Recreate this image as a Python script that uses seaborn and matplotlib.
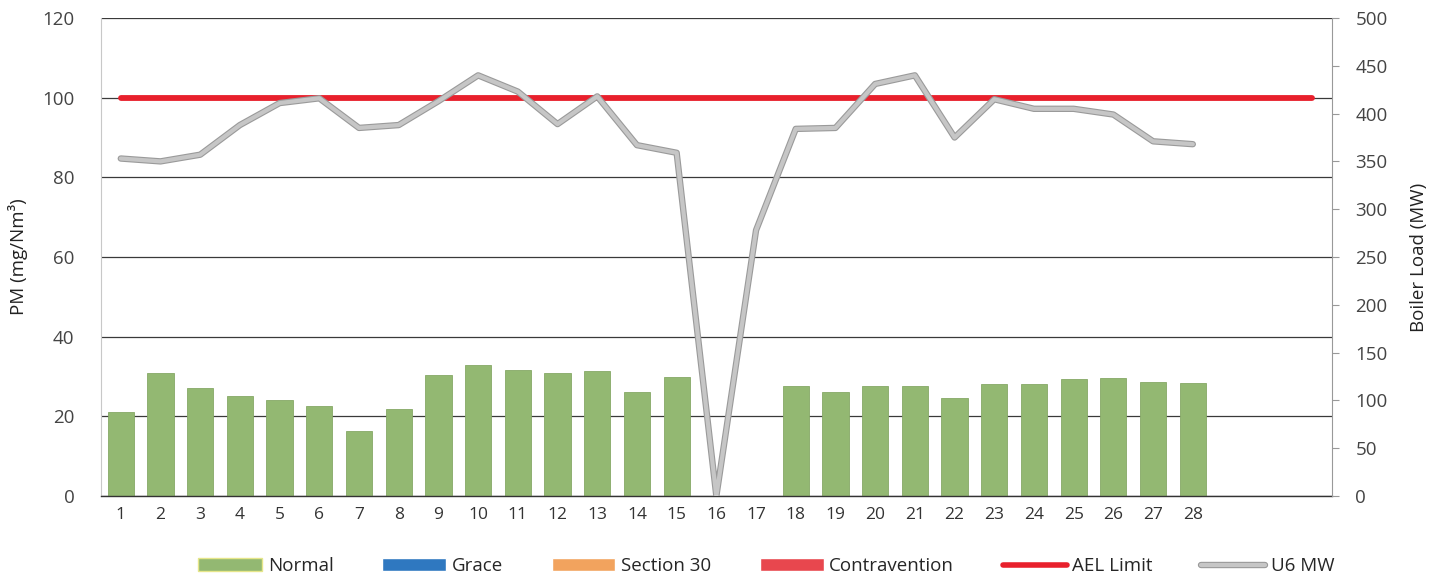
import numpy as np
import pandas as pd
import matplotlib
matplotlib.use("Agg")
import matplotlib.pyplot as plt
import matplotlib.patheffects as pe
from matplotlib.patches import Patch
from matplotlib.lines import Line2D
import seaborn as sns

# Daily values (31 day slots, data for days 1-28)
days = list(range(1, 32))
day_labels = [str(d) for d in range(1, 29)] + ["", "", ""]

normal = [21.0, 31.0, 27.2, 25.2, 24.2, 22.6, 16.4, 21.9, 30.4, 33.0,
          31.6, 30.8, 31.4, 26.1, 29.9, 0, 0, 27.7, 26.2, 27.5,
          27.7, 24.5, 28.1, 28.1, 29.4, 29.5, 28.5, 28.3, 0, 0, 0]
grace = [0] * 31
section30 = [0] * 31
contravention = [0] * 31
ael_limit = [100] * 31
u6_mw = [353, 350, 357, 388, 411, 416, 385, 388, 413, 440,
         423, 389, 418, 367, 359, 0, 278, 384, 385, 431,
         440, 375, 415, 405, 405, 399, 371, 368, np.nan, np.nan, np.nan]

c_normal = "#93b872"
c_grace = "#2f78c0"
c_s30 = "#f2a35e"
c_contra = "#e8474e"
c_ael = "#e8202c"
c_mw = "#c6c6c6"

sns.set_theme(style="white")
plt.rcParams["font.family"] = ["Open Sans", "DejaVu Sans"]

df = pd.DataFrame({"day": days, "Normal": normal, "Grace": grace,
                   "Section 30": section30, "Contravention": contravention})

fig = plt.figure(figsize=(14.46, 5.8), dpi=100)
ax = fig.add_axes([0.0698, 0.1448, 0.8512, 0.8242])

sns.barplot(data=df, x="day", y="Normal", color=c_normal, width=0.66,
            saturation=1, edgecolor="#86a866", linewidth=0.6, ax=ax, zorder=2)

pos = np.arange(len(days))
sns.lineplot(x=pos, y=ael_limit, color=c_ael, linewidth=4.2, ax=ax, zorder=3)

ax.set_ylim(0, 120)
ax.set_xlim(-0.5, len(days) - 0.5)
ax.set_yticks(range(0, 121, 20))
ax.set_xticks(pos)
ax.set_xticklabels(day_labels)
ax.grid(axis="y", color="#3a3a3a", linewidth=0.9)
ax.set_axisbelow(True)
ax.set_xlabel("")
ax.set_ylabel("PM (mg/Nm³)", fontsize=13.5, color="#222222", labelpad=10)
ax.tick_params(axis="y", length=0, labelsize=13.5, labelcolor="#444444", pad=19)
ax.tick_params(axis="x", length=3, width=0.6, color="#888888", direction="out",
               labelsize=12.5, labelcolor="#333333", pad=5)
for s in ["top", "right"]:
    ax.spines[s].set_visible(False)
ax.spines["left"].set_color("#c8c8c8")
ax.spines["left"].set_linewidth(0.8)
ax.spines["bottom"].set_color("#333333")
ax.spines["bottom"].set_linewidth(1.0)

ax2 = ax.twinx()
sns.lineplot(x=pos, y=u6_mw, color=c_mw, linewidth=3.0, ax=ax2,
             path_effects=[pe.Stroke(linewidth=4.6, foreground="#9a9a9a"), pe.Normal()])
ax2.set_ylim(0, 500)
ax2.set_yticks(range(0, 501, 50))
ax2.set_ylabel("Boiler Load (MW)", fontsize=13.5, color="#222222", labelpad=16)
ax2.tick_params(axis="y", length=5, width=0.8, color="#999999", direction="out",
                labelsize=13.5, labelcolor="#444444", pad=12)
for s in ["top", "left", "bottom"]:
    ax2.spines[s].set_visible(False)
ax2.spines["right"].set_color("#999999")
ax2.spines["right"].set_linewidth(0.8)
ax2.grid(False)

handles = [
    Patch(facecolor=c_normal, edgecolor="#e6e68a", label="Normal"),
    Patch(facecolor=c_grace, label="Grace"),
    Patch(facecolor=c_s30, label="Section 30"),
    Patch(facecolor=c_contra, label="Contravention"),
    Line2D([0], [0], color=c_ael, linewidth=4, label="AEL Limit"),
    Line2D([0], [0], color=c_mw, linewidth=3,
           path_effects=[pe.Stroke(linewidth=4.6, foreground="#9a9a9a"), pe.Normal()],
           label="U6 MW"),
]
fig.legend(handles=handles, loc="center", bbox_to_anchor=(0.53, 0.024), ncol=6,
           frameon=False, fontsize=13.5, handlelength=3.4, handleheight=0.7,
           handletextpad=0.3, columnspacing=2.6)

fig.savefig("out.png", dpi=100)
